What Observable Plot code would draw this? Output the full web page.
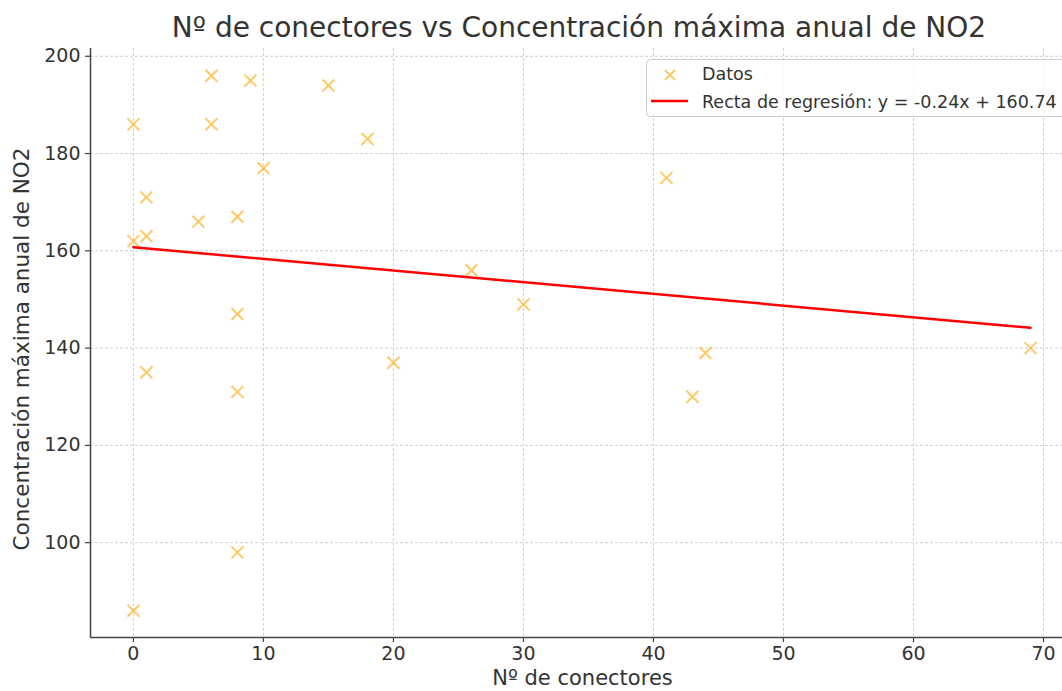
<!DOCTYPE html>
<html>
<head>
<meta charset="utf-8">
<script src="https://cdn.jsdelivr.net/npm/d3@7"></script>
<script src="https://cdn.jsdelivr.net/npm/@observablehq/plot@0.6"></script>
<style>
  body { margin: 0; background: #fff; font-family: "DejaVu Sans", sans-serif; }
  #wrap { position: relative; width: 1062px; height: 691px; overflow: hidden; background: #fff; }
  #title { position: absolute; top: 12px; left: 579px; transform: translateX(-50%);
           white-space: nowrap; font-size: 28px; line-height: 1.164; color: #333; }
  #chart { position: absolute; top: 48px; left: 0; }
  #legend { position: absolute; top: 0; left: 0; pointer-events: none; }
</style>
</head>
<body>
<div id="wrap">
  <div id="title">Nº de conectores vs Concentración máxima anual de NO2</div>
  <div id="chart"></div>
</div>
<script>
// Number of charging connectors per station and yearly maximum NO2 concentration
const conectores = [0, 6, 6, 9, 15, 18, 10, 1, 5, 8, 1, 0, 8, 1, 8, 20, 8, 0, 26, 30, 41, 44, 43, 69];
const no2Max     = [186, 196, 186, 195, 194, 183, 177, 171, 166, 167, 163, 162, 147, 135, 131, 137, 98, 86, 156, 149, 175, 139, 130, 140];

// Fitted regression line
const slope = -0.24;
const intercept = 160.74;

// Axis ticks and labels
const xTicks = [0, 10, 20, 30, 40, 50, 60, 70];
const yTicks = [100, 120, 140, 160, 180, 200];
const xLabel = "Nº de conectores";
const yLabel = "Concentración máxima anual de NO2";
const serieDatos = "Datos";
const serieRecta = `Recta de regresión: y = ${slope.toFixed(2)}x + ${intercept.toFixed(2)}`;

const xDomain = [-3.3, 71.46];
const yDomain = [80.5, 201.6];

const puntos = conectores.map((c, i) => ({x: c, y: no2Max[i]}));
const recta = d3.extent(conectores).map(x => ({x, y: slope * x + intercept}));

const gridStyle = {stroke: "#b0b0b0", strokeOpacity: 0.75, strokeWidth: 0.8, strokeDasharray: "3,2"};
const axisColor = "#444";

const chart = Plot.plot({
  width: 1062,
  height: 643,
  marginLeft: 90,
  marginRight: 0,
  marginTop: 0,
  marginBottom: 54,
  style: {fontFamily: '"DejaVu Sans", sans-serif', fontSize: "19px", color: "#333", background: "#fff", overflow: "visible"},
  x: {domain: xDomain},
  y: {domain: yDomain},
  marks: [
    Plot.gridX(xTicks, gridStyle),
    Plot.gridY(yTicks, gridStyle),
    Plot.axisX(xTicks, {tickSize: 5, tickPadding: 4, label: null, stroke: axisColor, strokeWidth: 1.2, fontSize: 19}),
    Plot.axisY(yTicks, {tickSize: 5, tickPadding: 5, label: null, stroke: axisColor, strokeWidth: 1.2, fontSize: 19}),
    Plot.ruleX([xDomain[0]], {stroke: axisColor, strokeWidth: 1.5}),
    Plot.ruleY([yDomain[0]], {stroke: axisColor, strokeWidth: 1.5}),
    Plot.dot(puntos, {x: "x", y: "y", symbol: "times", r: 5.5, stroke: "orange", strokeOpacity: 0.6, strokeWidth: 2}),
    Plot.line(recta, {x: "x", y: "y", stroke: "red", strokeWidth: 2.5}),
    Plot.text([xLabel], {frameAnchor: "bottom", textAnchor: "middle", lineAnchor: "middle", dx: 6, dy: 41, fontSize: 21, fill: "#333"}),
    Plot.text([yLabel], {frameAnchor: "left", textAnchor: "middle", lineAnchor: "middle", rotate: -90, dx: -68, dy: 6, fontSize: 21.5, fill: "#333"})
  ]
});
document.getElementById("chart").append(chart);

// Legend box in the upper right corner
const leg = d3.select("#wrap").append("svg")
  .attr("id", "legend").attr("width", 1062).attr("height", 130)
  .style("font-family", '"DejaVu Sans", sans-serif');
leg.append("rect")
  .attr("x", 646.5).attr("y", 59.5).attr("width", 440).attr("height", 57).attr("rx", 4)
  .attr("fill", "#fff").attr("fill-opacity", 0.8).attr("stroke", "#cccccc");
leg.append("path")
  .attr("d", "M665,70L675,80M665,80L675,70")
  .attr("stroke", "orange").attr("stroke-opacity", 0.6).attr("stroke-width", 2).attr("fill", "none");
leg.append("text").attr("x", 702).attr("y", 79.5).attr("font-size", 17.5).attr("fill", "#333").text(serieDatos);
leg.append("line")
  .attr("x1", 651).attr("x2", 688).attr("y1", 101).attr("y2", 101)
  .attr("stroke", "red").attr("stroke-width", 2.5);
leg.append("text").attr("x", 702).attr("y", 107.5).attr("font-size", 17.5).attr("fill", "#333").text(serieRecta);
</script>
</body>
</html>
